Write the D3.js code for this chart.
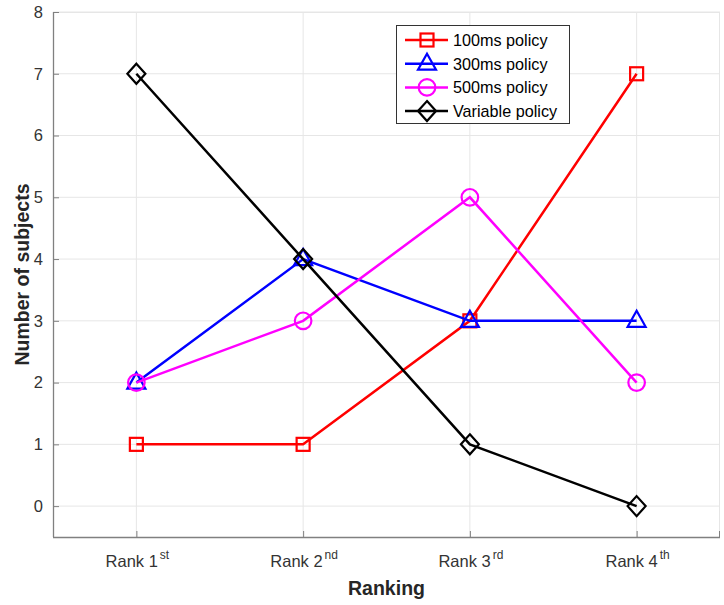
<!DOCTYPE html>
<html><head><meta charset="utf-8">
<script src="https://cdn.jsdelivr.net/npm/d3@7"></script>
<style>body{margin:0;background:#fff}svg{display:block;font-family:"Liberation Sans",Arial,sans-serif}</style>
</head><body>
<svg id="c" width="724" height="605"></svg>
<script>
const categories = ["1","2","3","4"];
const superscripts = ["st","nd","rd","th"];
const yTicks = [0,1,2,3,4,5,6,7,8];
const seriesNames = ["100ms policy","300ms policy","500ms policy","Variable policy"];
const v100 = [1,1,3,7];
const v300 = [2,4,3,3];
const v500 = [2,3,5,2];
const vVar = [7,4,1,0];
const colors = ["#ff0000","#0000ff","#ff00ff","#000000"];
const markers = ["square","triangle","circle","diamond"];
const seriesValues = [v100,v300,v500,vVar];

const svg = d3.select("#c");
const L=53,R=720,T=12,B=537;
const x = d3.scaleLinear().domain([0.5,4.5]).range([L,R]);
const y = d3.scaleLinear().domain([-0.5,8]).range([B,T]);

// grid
const g = svg.append("g");
g.selectAll(".gy").data(yTicks).join("line").attr("x1",L).attr("x2",R)
 .attr("y1",d=>y(d)).attr("y2",d=>y(d)).attr("stroke","#e6e6e6").attr("stroke-width",1);
g.selectAll(".gx").data(categories).join("line").attr("y1",T).attr("y2",B)
 .attr("x1",(d,i)=>x(i+1)).attr("x2",(d,i)=>x(i+1)).attr("stroke","#e6e6e6").attr("stroke-width",1);
svg.append("line").attr("x1",L).attr("x2",R).attr("y1",T+0.5).attr("y2",T+0.5).attr("stroke","#e6e6e6");
svg.append("line").attr("x1",R-0.5).attr("x2",R-0.5).attr("y1",T).attr("y2",B).attr("stroke","#e6e6e6");

// axes
const axCol="#808080";
const yAxis = d3.axisLeft(y).tickValues(yTicks).tickSizeInner(-6).tickSizeOuter(0).tickPadding(10);
const ya = svg.append("g").attr("transform",`translate(${L},0)`).call(yAxis);
ya.select(".domain").attr("stroke",axCol).attr("stroke-width",1.3).attr("d",`M0.5,${T}V${B}`);
ya.selectAll(".tick line").attr("stroke",axCol);
ya.selectAll(".tick text").attr("font-size",16.5).attr("fill","#333").attr("font-family","Liberation Sans, Arial, sans-serif");

const xAxis = d3.axisBottom(x).tickValues([1,2,3,4]).tickSizeInner(-6).tickSizeOuter(0).tickFormat(()=>"");
const xa = svg.append("g").attr("transform",`translate(0,${B})`).call(xAxis);
xa.select(".domain").attr("stroke",axCol).attr("stroke-width",1.3).attr("d",`M${L},0.5H${R}`);
xa.selectAll(".tick line").attr("stroke",axCol);
svg.append("line").attr("x1",R-0.5).attr("x2",R-0.5).attr("y1",B).attr("y2",B-6).attr("stroke",axCol);

// x tick labels with superscripts
categories.forEach((c,i)=>{
  const t = svg.append("text").attr("x",x(i+1)+1).attr("y",B+30).attr("text-anchor","middle")
    .attr("font-size",16.5).attr("fill","#333");
  t.append("tspan").text("Rank "+c);
  t.append("tspan").attr("dy",-8).attr("font-size",12).attr("dx",2).text(superscripts[i]);
});

// axis titles
svg.append("text").attr("x",(L+R)/2).attr("y",595).attr("text-anchor","middle")
 .attr("font-size",19.5).attr("font-weight","bold").attr("fill","#262626").text("Ranking");
svg.append("text").attr("transform",`translate(29,${(T+B)/2}) rotate(-90)`).attr("text-anchor","middle")
 .attr("font-size",19.5).attr("font-weight","bold").attr("fill","#262626").text("Number of subjects");

function drawMarker(sel,type,cx,cy,col){
  const sw=2.2;
  if(type==="square") sel.append("rect").attr("x",cx-6.5).attr("y",cy-6.5).attr("width",13).attr("height",13)
    .attr("fill","none").attr("stroke",col).attr("stroke-width",sw);
  else if(type==="circle") sel.append("circle").attr("cx",cx).attr("cy",cy).attr("r",8.3)
    .attr("fill","none").attr("stroke",col).attr("stroke-width",sw);
  else if(type==="triangle") sel.append("path").attr("d",`M${cx},${cy-10}L${cx+9},${cy+6}L${cx-9},${cy+6}Z`)
    .attr("fill","none").attr("stroke",col).attr("stroke-width",sw).attr("stroke-linejoin","miter");
  else if(type==="diamond") sel.append("path").attr("d",`M${cx},${cy-10}L${cx+9},${cy}L${cx},${cy+10}L${cx-9},${cy}Z`)
    .attr("fill","none").attr("stroke",col).attr("stroke-width",sw).attr("stroke-linejoin","miter");
}

const line = d3.line().x((d,i)=>x(i+1)).y(d=>y(d));
seriesValues.forEach((vals,s)=>{
  const sg = svg.append("g");
  sg.append("path").attr("d",line(vals)).attr("fill","none").attr("stroke",colors[s]).attr("stroke-width",2.5);
  vals.forEach((v,i)=>drawMarker(sg,markers[s],x(i+1),y(v),colors[s]));
});

// legend
const lg = svg.append("g");
lg.append("rect").attr("x",396.5).attr("y",25.5).attr("width",173).attr("height",98)
  .attr("fill","#fff").attr("stroke","#333").attr("stroke-width",1);
seriesNames.forEach((n,s)=>{
  const cy = 40 + s*23.7;
  lg.append("line").attr("x1",405).attr("x2",448).attr("y1",cy).attr("y2",cy).attr("stroke",colors[s]).attr("stroke-width",2.5);
  drawMarker(lg,markers[s],427,cy,colors[s]);
  lg.append("text").attr("x",453).attr("y",cy+6).attr("font-size",16.2).attr("fill","#000").text(n);
});
</script>
</body></html>
